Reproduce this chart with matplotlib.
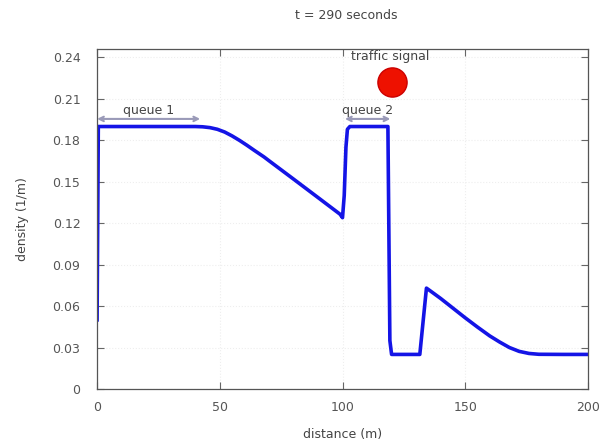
import matplotlib
matplotlib.use("Agg")
import matplotlib.pyplot as plt
import numpy as np

# density profile (distance in m, density in 1/m)
distance = [0, 0.5, 5, 20, 40, 43, 46, 49, 52, 55, 58, 61, 64, 68, 70, 80, 90,
            99, 100, 100.7, 101.4, 102, 103, 110, 118.5, 119.3, 120, 125, 131.5,
            134.2, 136, 140, 145, 150, 155, 160, 164, 168, 172, 176, 180, 190, 200]
density = [0.05, 0.19, 0.19, 0.19, 0.19, 0.1898, 0.1892, 0.1880, 0.1860, 0.1832,
           0.1800, 0.1765, 0.1728, 0.1680, 0.1653, 0.1520, 0.1386,
           0.1265, 0.1240, 0.140, 0.175, 0.188, 0.19, 0.19, 0.19, 0.035, 0.025,
           0.025, 0.025, 0.073, 0.0707, 0.0655, 0.0585, 0.0515, 0.0448, 0.0384,
           0.0340, 0.0300, 0.0272, 0.0257, 0.0251, 0.025, 0.025]

xticks = [0, 50, 100, 150, 200]
yticks = [0, 0.03, 0.06, 0.09, 0.12, 0.15, 0.18, 0.21, 0.24]
ytick_labels = ["0", "0.03", "0.06", "0.09", "0.12", "0.15", "0.18", "0.21", "0.24"]

queue1 = (0, 42)
queue2 = (101, 119.5)
signal_pos = (120, 0.222)

fig = plt.figure(figsize=(6.03, 4.43), dpi=100)
ax = fig.add_axes([0.161, 0.122, 0.814, 0.767])

ax.plot(distance, density, color="#1414e6", lw=2.6, solid_joinstyle="round")

ax.set_xlim(0, 200)
ax.set_ylim(0, 0.246)
ax.set_xticks(xticks)
ax.set_yticks(yticks)
ax.set_yticklabels(ytick_labels)
ax.tick_params(direction="in", top=True, right=True, length=5, width=0.8,
               colors="#666666", labelcolor="#555555", labelsize=9)
ax.tick_params(axis="y", pad=12)
ax.tick_params(axis="x", pad=9)
ax.grid(True, color="#eeeeee", lw=0.8, ls=":")
for s in ax.spines.values():
    s.set_color("#555555")
    s.set_linewidth(0.9)

ax.set_xlabel("distance (m)", color="#444444", fontsize=9, labelpad=10)
ax.set_ylabel("density (1/m)", color="#444444", fontsize=9, labelpad=17)
fig.text(0.575, 0.965, "t = 290 seconds", ha="center", va="center",
         color="#444444", fontsize=9)

arrow_kw = dict(arrowstyle="<->", color="#9a9ab8", lw=1.5, shrinkA=0, shrinkB=0,
                mutation_scale=8)
ax.annotate("", xy=(queue1[0], 0.1955), xytext=(queue1[1], 0.1955), arrowprops=arrow_kw)
ax.annotate("", xy=(queue2[0], 0.1955), xytext=(queue2[1], 0.1955), arrowprops=arrow_kw)
ax.text(sum(queue1) / 2, 0.2015, "queue 1", ha="center", va="center",
        color="#444444", fontsize=9)
ax.text(sum(queue2) / 2, 0.2015, "queue 2", ha="center", va="center",
        color="#444444", fontsize=9)
ax.plot([signal_pos[0]], [signal_pos[1]], "o", color="#ee1100", ms=21,
        markeredgecolor="#cc0000", markeredgewidth=1)
ax.text(signal_pos[0] - 0.5, 0.2405, "traffic signal", ha="center", va="center",
        color="#444444", fontsize=9)

fig.savefig("out.png", dpi=100)
